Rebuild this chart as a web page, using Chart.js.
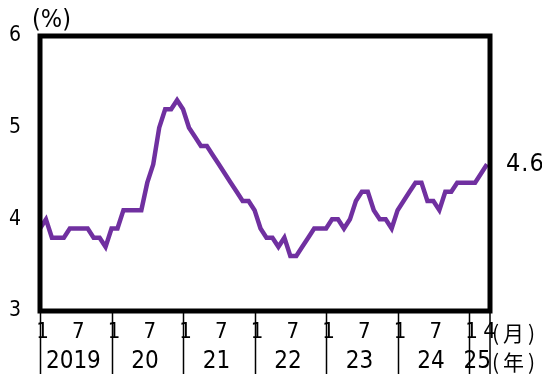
<!DOCTYPE html>
<html lang="ja">

<head>
    <meta charset="UTF-8">
    <title>Rate chart</title>
    <style>
        html, body { margin: 0; padding: 0; background: #fff; }
        #wrap { width: 542px; height: 374px; }
    </style>
</head>

<body>
    <div id="wrap"><canvas id="rateCanvas" width="542" height="374"></canvas></div>

    <script src="https://cdn.jsdelivr.net/npm/chart.js@4/dist/chart.umd.min.js"></script>
    <script>
        // monthly values, Jan 2019 .. Apr 2025
        const rates = [
            3.9, 4.0, 3.8, 3.8, 3.8, 3.9, 3.9, 3.9, 3.9, 3.8, 3.8, 3.7,
            3.9, 3.9, 4.1, 4.1, 4.1, 4.1, 4.4, 4.6, 5.0, 5.2, 5.2, 5.3,
            5.2, 5.0, 4.9, 4.8, 4.8, 4.7, 4.6, 4.5, 4.4, 4.3, 4.2, 4.2,
            4.1, 3.9, 3.8, 3.8, 3.7, 3.8, 3.6, 3.6, 3.7, 3.8, 3.9, 3.9,
            3.9, 4.0, 4.0, 3.9, 4.0, 4.2, 4.3, 4.3, 4.1, 4.0, 4.0, 3.9,
            4.1, 4.2, 4.3, 4.4, 4.4, 4.2, 4.2, 4.1, 4.3, 4.3, 4.4, 4.4,
            4.4, 4.4, 4.5, 4.6
        ];
        const yearLabels = ['2019', '20', '21', '22', '23', '24', '25'];
        // month labels shown under each year
        const monthLabels = [
            ['1', '7'], ['1', '7'], ['1', '7'], ['1', '7'],
            ['1', '7'], ['1', '7'], ['1', '4']
        ];
        const yTicks = [3, 4, 5, 6];
        const lastLabel = '4.6';

        const NUM_FONT = "'Liberation Sans Narrow', 'DejaVu Sans Condensed', sans-serif";
        const CJK_FONT = "'Noto Sans CJK JP', sans-serif";
        const lineColor = '#7030A0';
        const xMax = rates.length - 0.5;

        const points = rates.map((v, i) => ({ x: i, y: v }));

        const monthTickVals = [];
        const monthTickText = [];
        monthLabels.forEach((ms, yi) => {
            ms.forEach(m => {
                monthTickVals.push(yi * 12 + parseInt(m) - 1);
                monthTickText.push(m);
            });
        });
        const yearCenters = yearLabels.map((y, yi) => {
            const start = yi * 12;
            const end = Math.min(start + 12, xMax);
            return (start + end) / 2 - 0.4;
        });

        const framePlugin = {
            id: 'frame',
            afterDraw(chart) {
                const ctx = chart.ctx;
                const a = chart.chartArea;
                const xs = chart.scales.x;
                const ys = chart.scales.y;
                ctx.save();
                // year separators
                ctx.strokeStyle = '#000';
                ctx.lineWidth = 1.5;
                ctx.beginPath();
                yearLabels.forEach((y, yi) => {
                    const px = Math.round(xs.getPixelForValue(yi * 12)) + 0.5;
                    ctx.moveTo(px, a.bottom);
                    ctx.lineTo(px, chart.height);
                });
                ctx.moveTo(a.right, a.bottom);
                ctx.lineTo(a.right, chart.height);
                ctx.stroke();
                // plot frame
                ctx.lineWidth = 5;
                ctx.strokeRect(a.left, a.top, a.right - a.left, a.bottom - a.top);

                ctx.fillStyle = '#000';
                ctx.textBaseline = 'middle';
                ctx.textAlign = 'left';
                ctx.font = '25px ' + NUM_FONT;
                ctx.fillText('(%)', 32, 20);

                // value label at last point
                ctx.font = '25px ' + NUM_FONT;
                ctx.letterSpacing = '1px';
                ctx.fillText(lastLabel, a.right + 16, ys.getPixelForValue(rates[rates.length - 1]));

                ctx.font = '21px ' + CJK_FONT;
                ctx.letterSpacing = '4px';
                ctx.fillText('(月)', a.right + 2, 333);
                ctx.fillText('(年)', a.right + 2, 362);
                ctx.restore();
            }
        };

        const ctx = document.getElementById('rateCanvas').getContext('2d');
        const rateChart = new Chart(ctx, {
            type: 'line',
            data: {
                datasets: [{
                    data: points,
                    borderColor: lineColor,
                    borderWidth: 4.5,
                    pointRadius: 0,
                    tension: 0,
                    fill: false
                }]
            },
            options: {
                responsive: false,
                animation: false,
                events: [],
                layout: { padding: { top: 36, right: 52, left: 0, bottom: 0 } },
                plugins: { legend: { display: false }, tooltip: { enabled: false } },
                scales: {
                    x: {
                        type: 'linear',
                        min: 0,
                        max: xMax,
                        grid: { display: false, drawTicks: false },
                        border: { display: false },
                        afterBuildTicks: s => { s.ticks = monthTickVals.map(v => ({ value: v })); },
                        afterFit: s => { s.height = 32; },
                        ticks: {
                            autoSkip: false,
                            maxRotation: 0,
                            padding: 8,
                            labelOffset: 2.5,
                            color: '#000',
                            font: { family: NUM_FONT, size: 22 },
                            callback: (v, i) => monthTickText[i]
                        }
                    },
                    x2: {
                        type: 'linear',
                        position: 'bottom',
                        min: 0,
                        max: xMax,
                        grid: { display: false, drawTicks: false },
                        border: { display: false },
                        afterBuildTicks: s => { s.ticks = yearCenters.map(v => ({ value: v })); },
                        afterFit: s => { s.height = 31; },
                        ticks: {
                            autoSkip: false,
                            maxRotation: 0,
                            padding: 4,
                            color: '#000',
                            font: { family: NUM_FONT, size: 24 },
                            callback: (v, i) => yearLabels[i]
                        }
                    },
                    y: {
                        min: 3,
                        max: 6,
                        grid: { display: false, drawTicks: false },
                        border: { display: false },
                        afterBuildTicks: s => { s.ticks = yTicks.map(v => ({ value: v })); },
                        afterFit: s => { s.width = 40; },
                        ticks: {
                            padding: 19,
                            color: '#000',
                            font: { family: NUM_FONT, size: 21 }
                        }
                    }
                }
            },
            plugins: [framePlugin]
        });
    </script>
</body>

</html>
